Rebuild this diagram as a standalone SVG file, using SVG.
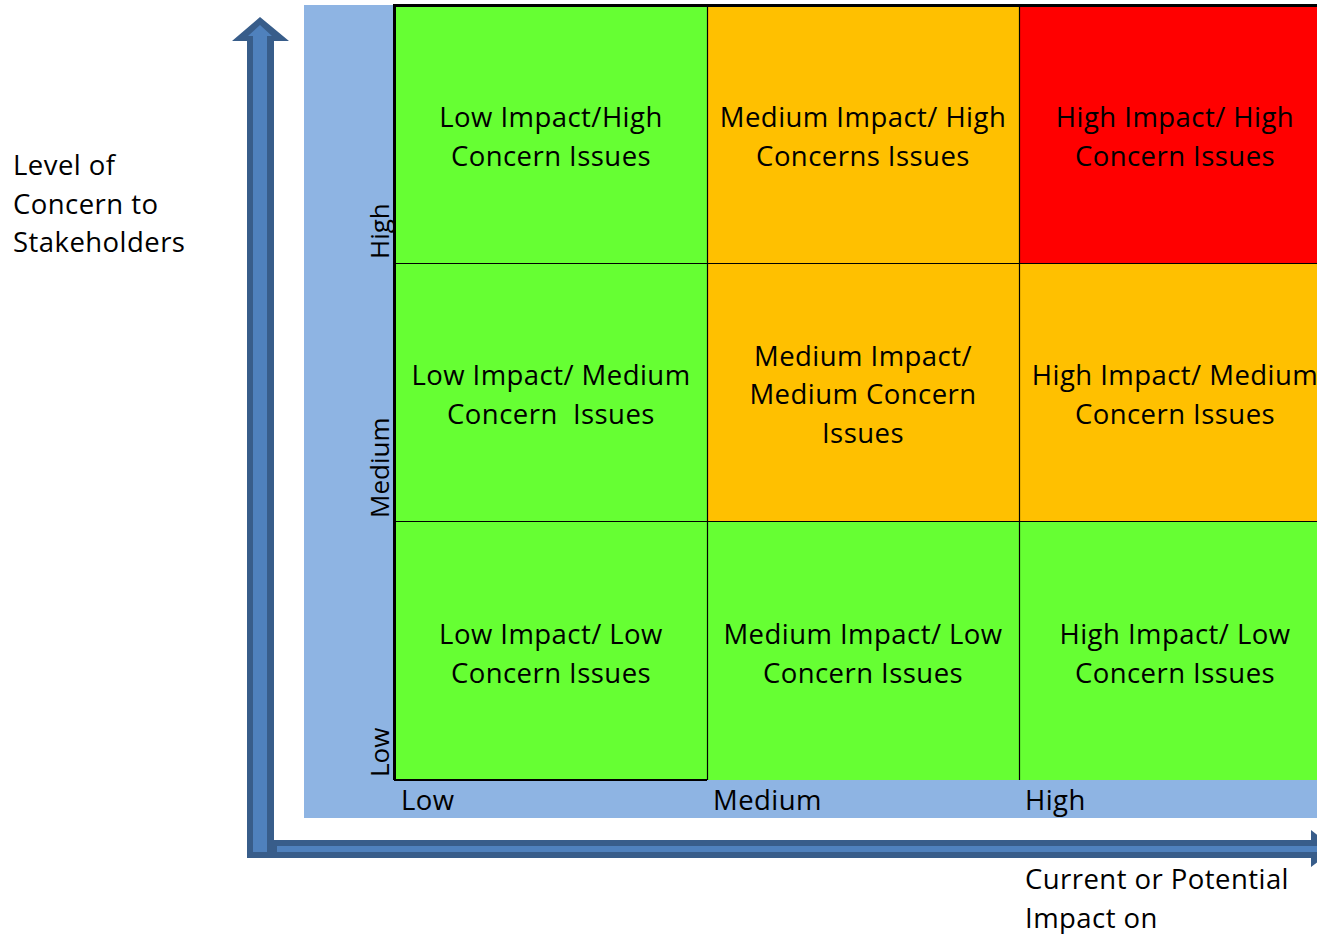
<svg xmlns="http://www.w3.org/2000/svg" width="1317" height="934" viewBox="0 0 1317 934">
<style>
text{font-family:"Open Sans","Liberation Sans",sans-serif;font-size:27.5px;fill:#000;letter-spacing:0.45px}
.c{text-anchor:middle}
.g{fill:#66FF33}
.o{fill:#FFC000}
.r{fill:#FF0000}
.ln{stroke:#000;stroke-width:1.2;fill:none}
.ad{fill:#385D8A}
.al{fill:#4F81BD}
.v{letter-spacing:0;font-size:26px}
</style>
<rect width="1317" height="934" fill="#fff"/>
<g id="background">
<rect x="304" y="5" width="1013" height="813" fill="#8EB4E3"/>
</g>
<g id="connectors">
<polygon class="ad" points="232,41 260,17 289,41 274,41 274,858 247,858 247,41"/>
<polygon class="al" points="248,36 260,25 272,36 267,36 267,852 253,852 253,36"/>
<polygon class="ad" points="274,840 1311,840 1311,830 1335,849 1311,867 1311,858 274,858"/>
<polygon class="al" points="277,846 1317,846 1317,852 277,852"/>
</g>
<g id="grid">
<g id="cell-low-high"><rect class="g" x="395" y="5" width="312" height="258"/><text class="c" x="551" y="127">Low Impact/High</text><text class="c" x="551" y="166">Concern Issues</text></g>
<g id="cell-med-high"><rect class="o" x="707" y="5" width="312" height="258"/><text class="c" x="863" y="127">Medium Impact/ High</text><text class="c" x="863" y="166">Concerns Issues</text></g>
<g id="cell-high-high"><rect class="r" x="1019" y="5" width="312" height="258"/><text class="c" x="1175" y="127">High Impact/ High</text><text class="c" x="1175" y="166">Concern Issues</text></g>
<g id="cell-low-med"><rect class="g" x="395" y="263" width="312" height="258"/><text class="c" x="551" y="385">Low Impact/ Medium</text><text class="c" x="551" y="424" xml:space="preserve">Concern  Issues</text></g>
<g id="cell-med-med"><rect class="o" x="707" y="263" width="312" height="258"/><text class="c" x="863" y="366">Medium Impact/</text><text class="c" x="863" y="404">Medium Concern</text><text class="c" x="863" y="443">Issues</text></g>
<g id="cell-high-med"><rect class="o" x="1019" y="263" width="312" height="258"/><text class="c" x="1175" y="385">High Impact/ Medium</text><text class="c" x="1175" y="424">Concern Issues</text></g>
<g id="cell-low-low"><rect class="g" x="395" y="521" width="312" height="259"/><text class="c" x="551" y="644">Low Impact/ Low</text><text class="c" x="551" y="683">Concern Issues</text></g>
<g id="cell-med-low"><rect class="g" x="707" y="521" width="312" height="259"/><text class="c" x="863" y="644">Medium Impact/ Low</text><text class="c" x="863" y="683">Concern Issues</text></g>
<g id="cell-high-low"><rect class="g" x="1019" y="521" width="312" height="259"/><text class="c" x="1175" y="644">High Impact/ Low</text><text class="c" x="1175" y="683">Concern Issues</text></g>
<path class="ln" d="M395,263.5H1317M395,521.5H1317M707.5,5V780M1019.5,5V780"/>
<path d="M394,5.5H1317" stroke="#000" stroke-width="3" fill="none"/>
<path d="M394.5,4V780" stroke="#000" stroke-width="3" fill="none"/>
<path d="M394,780H707" stroke="#000" stroke-width="2.2" fill="none"/>
</g>
<g id="axis-labels">
<text x="401" y="810">Low</text>
<text x="713" y="810">Medium</text>
<text x="1025" y="810">High</text>
<text class="v" transform="translate(389,259) rotate(-90)">High</text>
<text class="v" transform="translate(389,518) rotate(-90)">Medium</text>
<text class="v" transform="translate(389,777) rotate(-90)">Low</text>
</g>
<g id="y-title">
<text x="13" y="175">Level of</text>
<text x="13" y="214">Concern to</text>
<text x="13" y="252">Stakeholders</text>
</g>
<g id="x-title">
<text x="1025" y="889">Current or Potential</text>
<text x="1025" y="928">Impact on</text>
</g>
</svg>
